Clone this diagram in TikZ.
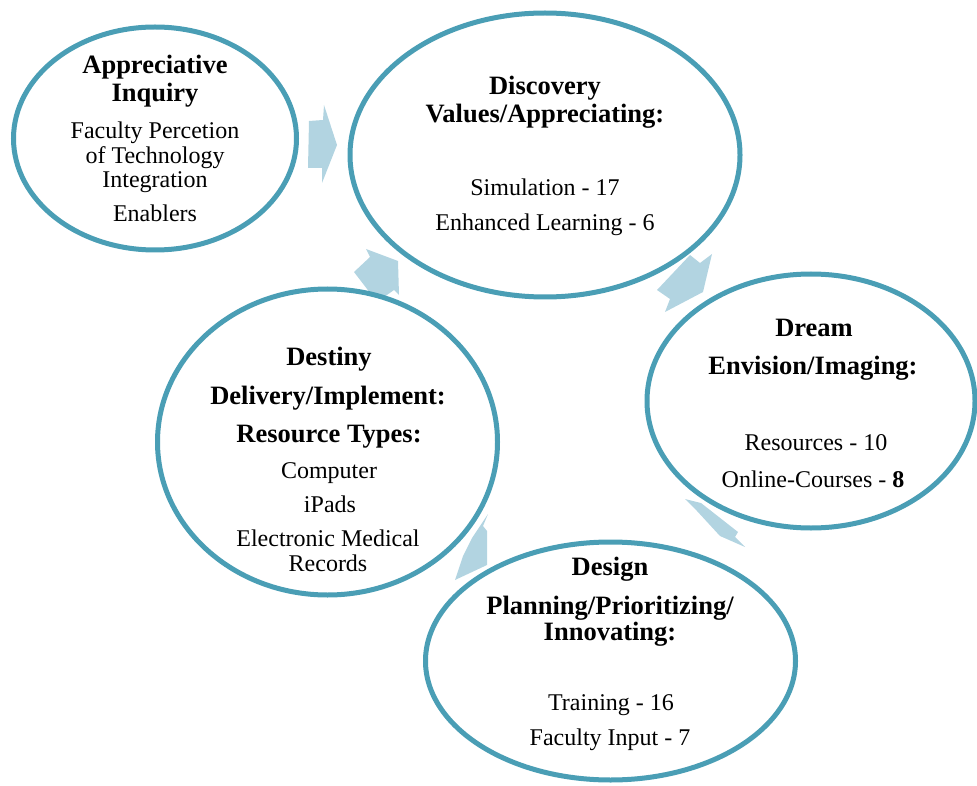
\documentclass[tikz,border=0pt]{standalone}
\usepackage{fontspec}
\setmainfont{Liberation Serif}
\usetikzlibrary{shapes.geometric}

\definecolor{ringblue}{RGB}{74,158,181}
\definecolor{flowblue}{RGB}{178,212,225}

\tikzset{
  stage/.style={ellipse, draw=ringblue, line width=5pt, fill=white, inner sep=0pt},
  head/.style={font=\fontsize{26.5}{28}\selectfont\bfseries, anchor=base, inner sep=0pt},
  item/.style={font=\fontsize{24}{25}\selectfont, anchor=base, inner sep=0pt},
  flow/.style={fill=flowblue}
}

\begin{document}
\begin{tikzpicture}[x=1pt,y=-1pt]
\useasboundingbox (0,0) rectangle (977,786);

% Block arrows of the cycle (drawn first, the rings cover their ends)
\fill[flow] (309,121) -- (323,120) -- (324,105) -- (337,145) -- (322,183) -- (322,168) -- (308,168) -- cycle;
\fill[flow] (657,290) -- (690,255) -- (700,263) -- (712,254) -- (703,292) -- (665,312) -- (670,299) -- cycle;
\fill[flow] (685,499) -- (701,503) -- (738,532) -- (735,537) -- (745,547) -- (720,536) -- (697,511) -- cycle;
\fill[flow] (488,514) -- (483,526) -- (487,531) -- (487,565) -- (455,580) -- (463,556) -- (472,538) -- (480,526) -- cycle;
\fill[flow] (366,249) -- (398,261) -- (399,295) -- (394,290) -- (377,302) -- (354,272) -- (370,257) -- cycle;

% Rings
\node[stage, minimum width=283pt, minimum height=223pt] (ai) at (155,138.5) {};
\node[stage, minimum width=390pt, minimum height=284pt] (disc) at (545,155) {};
\node[stage, minimum width=328pt, minimum height=254pt] (dream) at (811,401) {};
\node[stage, minimum width=340pt, minimum height=306pt] (destiny) at (327.5,442) {};
\node[stage, minimum width=370pt, minimum height=238pt] (design) at (610.5,661) {};

\begin{scope}[shift={(0,1.5)}]
% Appreciative Inquiry
\node[head] (ai-h1) at (155,72) {Appreciative};
\node[head] (ai-h2) at (155,100) {Inquiry};
\node[item] (ai-l1) at (155,137) {Faculty Percetion};
\node[item] (ai-l2) at (155,162) {of Technology};
\node[item] (ai-l3) at (155,186) {Integration};
\node[item] (ai-l4) at (155,220) {Enablers};

% Discovery
\node[head] (disc-h1) at (545,93) {Discovery};
\node[head] (disc-h2) at (545,121) {Values/Appreciating:};
\node[item] (disc-l1) at (545,194) {Simulation - 17};
\node[item] (disc-l2) at (545,229) {Enhanced Learning - 6};

% Dream
\node[head] (dream-h1) at (814,335) {Dream};
\node[head] (dream-h2) at (813,373) {Envision/Imaging:};
\node[item] (dream-l1) at (816,449) {Resources - 10};
\node[item] (dream-l2) at (813,486) {Online-Courses - \textbf{8}};

% Design
\node[head] (design-h1) at (610,574) {Design};
\node[head] (design-h2) at (610,613) {Planning/Prioritizing/};
\node[head] (design-h3) at (610,639) {Innovating:};
\node[item] (design-l1) at (611,709) {Training - 16};
\node[item] (design-l2) at (610,744) {Faculty Input - 7};

% Destiny
\node[head] (destiny-h1) at (329,364) {Destiny};
\node[head] (destiny-h2) at (328,403) {Delivery/Implement:};
\node[head] (destiny-h3) at (329,441) {Resource Types:};
\node[item] (destiny-l1) at (329,477) {Computer};
\node[item] (destiny-l2) at (330,511) {iPads};
\node[item] (destiny-l3) at (328,545) {Electronic Medical};
\node[item] (destiny-l4) at (328,570) {Records};
\end{scope}

\end{tikzpicture}
\end{document}
